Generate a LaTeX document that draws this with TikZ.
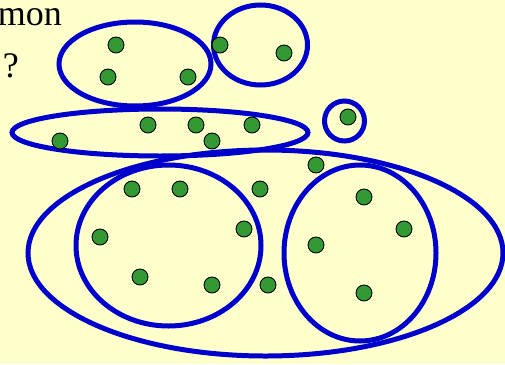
\documentclass[tikz,border=0pt]{standalone}
\usepackage{fontspec}
\setmainfont{Liberation Serif}
\definecolor{bgyellow}{HTML}{FFFFCC}
\definecolor{setblue}{HTML}{0000CC}
\definecolor{dotgreen}{HTML}{339933}
\begin{document}
\begin{tikzpicture}[x=1pt,y=-1pt,
  setline/.style={draw=setblue,line width=5pt},
  dot/.style={circle,draw=black,line width=0.9pt,fill=dotgreen,minimum size=16pt,inner sep=0pt},
  lbl/.style={font=\fontsize{36}{40}\selectfont,inner sep=0pt,anchor=base east}]
\fill[bgyellow] (0,0) rectangle (505,364);
\useasboundingbox (0,0) rectangle (505,364);
\clip (0,0) rectangle (505,364);
\node[lbl] (t1) at (62,25) {mon};
\node[lbl] (t2) at (19,77) {?};
% sets
\draw[setline] (135,64) ellipse [x radius=76,y radius=42];
\draw[setline] (260.5,45) ellipse [x radius=47,y radius=40];
\draw[setline] (160,132.5) ellipse [x radius=148,y radius=23.5];
\draw[setline] (344.5,121) circle [radius=20];
\draw[setline] (265.5,253) ellipse [x radius=237.5,y radius=103];
\draw[setline] (168.5,245.5) ellipse [x radius=92.5,y radius=80.5];
\draw[setline] (360,253) ellipse [x radius=76,y radius=88];
% elements
\node[dot] (a1) at (116,45) {};
\node[dot] (a2) at (108,77) {};
\node[dot] (a3) at (188,77) {};
\node[dot] (b1) at (220,45) {};
\node[dot] (b2) at (284,53) {};
\node[dot] (c1) at (60,141) {};
\node[dot] (c2) at (148,125) {};
\node[dot] (c3) at (196,125) {};
\node[dot] (c4) at (212,141) {};
\node[dot] (c5) at (252,125) {};
\node[dot] (e1) at (348,117) {};
\node[dot] (f1) at (316,165) {};
\node[dot] (f2) at (260,189) {};
\node[dot] (f3) at (268,285) {};
\node[dot] (g1) at (132,189) {};
\node[dot] (g2) at (180,189) {};
\node[dot] (g3) at (100,237) {};
\node[dot] (g4) at (244,229) {};
\node[dot] (g5) at (140,277) {};
\node[dot] (g6) at (212,285) {};
\node[dot] (h1) at (364,197) {};
\node[dot] (h2) at (404,229) {};
\node[dot] (h3) at (316,245) {};
\node[dot] (h4) at (364,293) {};
\end{tikzpicture}
\end{document}
